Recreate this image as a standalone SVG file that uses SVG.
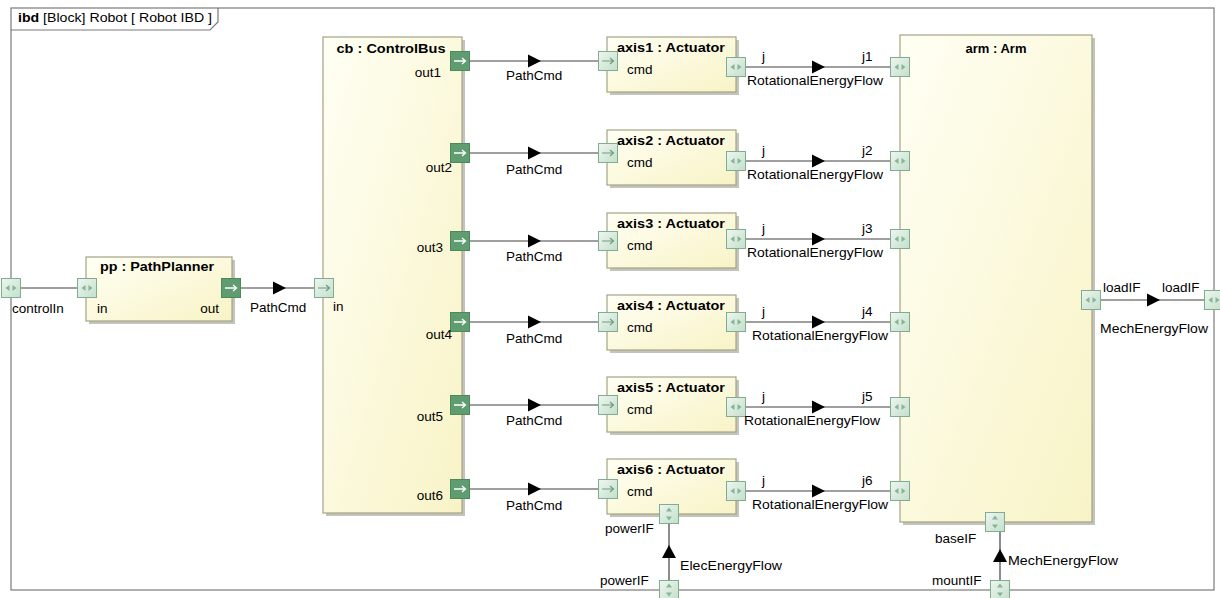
<svg xmlns="http://www.w3.org/2000/svg" width="1220" height="598" viewBox="0 0 1220 598">
<defs>
<linearGradient id="blk" x1="0" y1="0" x2="1" y2="1">
<stop offset="0" stop-color="#fffff4"/>
<stop offset="1" stop-color="#f8f3c6"/>
</linearGradient>
<linearGradient id="lp" x1="0" y1="0" x2="1" y2="1">
<stop offset="0" stop-color="#eef6f0"/>
<stop offset="1" stop-color="#c4dfcc"/>
</linearGradient>
<g id="pLR"><rect x="0.5" y="0.5" width="19" height="19" fill="url(#lp)" stroke="#7fae8e"/><path d="M4.5,10 L8.5,7 L8.5,13Z M15.5,10 L11.5,7 L11.5,13Z" fill="#86b594"/></g>
<g id="pUD"><rect x="0.5" y="0.5" width="19" height="19" fill="url(#lp)" stroke="#7fae8e"/><path d="M10,3.5 L7,7.5 L13,7.5Z M10,16.5 L7,12.5 L13,12.5Z" fill="#86b594"/></g>
<g id="pIn"><rect x="0.5" y="0.5" width="19" height="19" fill="url(#lp)" stroke="#7fae8e"/><path d="M4,10 H15 M12,7 L15.5,10 L12,13" fill="none" stroke="#6e9e7e" stroke-width="1.2"/></g>
<g id="pOut"><rect x="0.5" y="0.5" width="19" height="19" fill="#5f9c6f" stroke="#4c8a5c"/><path d="M4,10 H15 M12,7 L15.5,10 L12,13" fill="none" stroke="#ffffff" stroke-width="1.3"/></g>
<path id="flowR" d="M0,-6.5 L13,0 L0,6.5Z" fill="#000"/>
<path id="flowU" d="M-7,0 L0,-13 L7,0Z" fill="#000"/>
</defs>
<style>
text{font-family:"Liberation Sans",Arial,sans-serif;font-size:13.5px;fill:#000}
.t{font-weight:bold;font-size:13px}
.m{text-anchor:middle}
.e{text-anchor:end}
.blk{fill:url(#blk);stroke:#a3a386;stroke-width:1.2}
.sh{fill:#c4c4bc}
.ln{stroke:#404040;stroke-width:1.2;fill:none}
</style>
<rect width="1220" height="598" fill="#ffffff"/>
<g id="frame">
<rect x="11" y="8" width="1203" height="582" fill="none" stroke="#7a7a7a" stroke-width="1.2"/>
<path d="M11,30 H210 L218,22 V8" fill="none" stroke="#7a7a7a" stroke-width="1.2"/>
<text x="18" y="22" textLength="194" lengthAdjust="spacingAndGlyphs"><tspan font-weight="bold">ibd</tspan> [Block] Robot [ Robot IBD ]</text>
</g>
<g id="pp">
<rect class="sh" x="89" y="260" width="146" height="64"/>
<rect class="blk" x="86" y="257" width="146" height="64"/>
<text class="t m" x="157" y="271" textLength="114" lengthAdjust="spacingAndGlyphs">pp : PathPlanner</text>
<use href="#pLR" x="77" y="278"/>
<use href="#pOut" x="221" y="278"/>
<text x="97" y="313">in</text>
<text class="e" x="219" y="313">out</text>
</g>
<g id="cb">
<rect class="sh" x="326" y="40" width="139" height="476"/>
<rect class="blk" x="323" y="37" width="139" height="476"/>
<text class="t m" x="391" y="53" textLength="109" lengthAdjust="spacingAndGlyphs">cb : ControlBus</text>
<use href="#pIn" x="314" y="278"/>
<text x="333" y="311">in</text>
<use href="#pOut" x="450" y="51"/><text class="e" x="441" y="77">out1</text>
<use href="#pOut" x="450" y="143"/><text class="e" x="452" y="172">out2</text>
<use href="#pOut" x="450" y="231"/><text class="e" x="443" y="252">out3</text>
<use href="#pOut" x="450" y="312"/><text class="e" x="452" y="339">out4</text>
<use href="#pOut" x="450" y="395"/><text class="e" x="443" y="421">out5</text>
<use href="#pOut" x="450" y="479"/><text class="e" x="443" y="500">out6</text>
</g>
<g id="axis1">
<rect class="sh" x="610" y="40" width="129" height="55"/>
<rect class="blk" x="607" y="37" width="129" height="55"/>
<text class="t m" x="671" y="52" textLength="108" lengthAdjust="spacingAndGlyphs">axis1 : Actuator</text>
<text x="627" y="74">cmd</text>
<use href="#pIn" x="598" y="51"/>
<use href="#pLR" x="726" y="57"/>
</g>
<g id="axis2">
<rect class="sh" x="610" y="133" width="129" height="55"/>
<rect class="blk" x="607" y="130" width="129" height="55"/>
<text class="t m" x="671" y="145" textLength="108" lengthAdjust="spacingAndGlyphs">axis2 : Actuator</text>
<text x="627" y="167">cmd</text>
<use href="#pIn" x="598" y="143"/>
<use href="#pLR" x="726" y="151"/>
</g>
<g id="axis3">
<rect class="sh" x="610" y="216" width="129" height="55"/>
<rect class="blk" x="607" y="213" width="129" height="55"/>
<text class="t m" x="671" y="228" textLength="108" lengthAdjust="spacingAndGlyphs">axis3 : Actuator</text>
<text x="627" y="250">cmd</text>
<use href="#pIn" x="598" y="231"/>
<use href="#pLR" x="726" y="229"/>
</g>
<g id="axis4">
<rect class="sh" x="610" y="298" width="129" height="55"/>
<rect class="blk" x="607" y="295" width="129" height="55"/>
<text class="t m" x="671" y="310" textLength="108" lengthAdjust="spacingAndGlyphs">axis4 : Actuator</text>
<text x="627" y="332">cmd</text>
<use href="#pIn" x="598" y="312"/>
<use href="#pLR" x="726" y="312"/>
</g>
<g id="axis5">
<rect class="sh" x="610" y="380" width="129" height="55"/>
<rect class="blk" x="607" y="377" width="129" height="55"/>
<text class="t m" x="671" y="392" textLength="108" lengthAdjust="spacingAndGlyphs">axis5 : Actuator</text>
<text x="627" y="414">cmd</text>
<use href="#pIn" x="598" y="395"/>
<use href="#pLR" x="726" y="397"/>
</g>
<g id="axis6">
<rect class="sh" x="610" y="462" width="129" height="55"/>
<rect class="blk" x="607" y="459" width="129" height="55"/>
<text class="t m" x="671" y="474" textLength="108" lengthAdjust="spacingAndGlyphs">axis6 : Actuator</text>
<text x="627" y="496">cmd</text>
<use href="#pIn" x="598" y="479"/>
<use href="#pLR" x="726" y="481"/>
<use href="#pUD" x="659" y="504"/>
<text x="605" y="533">powerIF</text>
</g>
<g id="arm">
<rect class="sh" x="903" y="38" width="192" height="487"/>
<rect class="blk" x="900" y="35" width="192" height="487"/>
<text class="t m" x="996" y="53">arm : Arm</text>
<use href="#pLR" x="890" y="57"/>
<use href="#pLR" x="890" y="151"/>
<use href="#pLR" x="890" y="229"/>
<use href="#pLR" x="890" y="312"/>
<use href="#pLR" x="890" y="397"/>
<use href="#pLR" x="890" y="481"/>
<use href="#pLR" x="1081" y="290"/>
<use href="#pUD" x="985" y="512"/>
<text x="935" y="543">baseIF</text>
</g>
<g id="frame-ports">
<use href="#pLR" x="1" y="278"/>
<text x="12" y="313">controlIn</text>
<use href="#pLR" x="1204" y="290"/>
<use href="#pUD" x="659" y="580"/>
<text x="600" y="585">powerIF</text>
<use href="#pUD" x="990" y="580"/>
<text x="932" y="585">mountIF</text>
</g>
<g id="connectors">
<path class="ln" d="M21,288 H77"/>
<path class="ln" d="M241,288 H314"/>
<use href="#flowR" x="273" y="288"/>
<text x="250" y="312">PathCmd</text>
<path class="ln" d="M470,61 H598 M470,153 H598 M470,241 H598 M470,322 H598 M470,405 H598 M470,489 H598"/>
<use href="#flowR" x="528" y="61"/>
<use href="#flowR" x="528" y="153"/>
<use href="#flowR" x="528" y="241"/>
<use href="#flowR" x="528" y="322"/>
<use href="#flowR" x="528" y="405"/>
<use href="#flowR" x="528" y="489"/>
<text x="506" y="80">PathCmd</text>
<text x="506" y="174">PathCmd</text>
<text x="506" y="261">PathCmd</text>
<text x="506" y="343">PathCmd</text>
<text x="506" y="425">PathCmd</text>
<text x="506" y="510">PathCmd</text>
<path class="ln" d="M746,67 H890 M746,161 H890 M746,239 H890 M746,322 H890 M746,407 H890 M746,491 H890"/>
<use href="#flowR" x="812" y="67"/>
<use href="#flowR" x="812" y="161"/>
<use href="#flowR" x="812" y="239"/>
<use href="#flowR" x="812" y="322"/>
<use href="#flowR" x="812" y="407"/>
<use href="#flowR" x="812" y="491"/>
<text x="762" y="61">j</text><text x="862" y="61">j1</text>
<text x="762" y="155">j</text><text x="862" y="155">j2</text>
<text x="762" y="233">j</text><text x="862" y="233">j3</text>
<text x="762" y="316">j</text><text x="862" y="316">j4</text>
<text x="762" y="401">j</text><text x="862" y="401">j5</text>
<text x="762" y="485">j</text><text x="862" y="485">j6</text>
<text x="747" y="85" textLength="136" lengthAdjust="spacingAndGlyphs">RotationalEnergyFlow</text>
<text x="747" y="179" textLength="136" lengthAdjust="spacingAndGlyphs">RotationalEnergyFlow</text>
<text x="747" y="257" textLength="136" lengthAdjust="spacingAndGlyphs">RotationalEnergyFlow</text>
<text x="752" y="340" textLength="136" lengthAdjust="spacingAndGlyphs">RotationalEnergyFlow</text>
<text x="744" y="425" textLength="136" lengthAdjust="spacingAndGlyphs">RotationalEnergyFlow</text>
<text x="752" y="509" textLength="136" lengthAdjust="spacingAndGlyphs">RotationalEnergyFlow</text>
<path class="ln" d="M1101,300 H1204"/>
<use href="#flowR" x="1147" y="300"/>
<text x="1103" y="292">loadIF</text>
<text x="1162" y="292">loadIF</text>
<text x="1100" y="333" textLength="108" lengthAdjust="spacingAndGlyphs">MechEnergyFlow</text>
<path class="ln" d="M669,524 V580"/>
<use href="#flowU" x="669" y="558"/>
<text x="680" y="570" textLength="102" lengthAdjust="spacingAndGlyphs">ElecEnergyFlow</text>
<path class="ln" d="M1000,532 V580"/>
<use href="#flowU" x="1000" y="562"/>
<text x="1008" y="565" textLength="110" lengthAdjust="spacingAndGlyphs">MechEnergyFlow</text>
</g>
</svg>
